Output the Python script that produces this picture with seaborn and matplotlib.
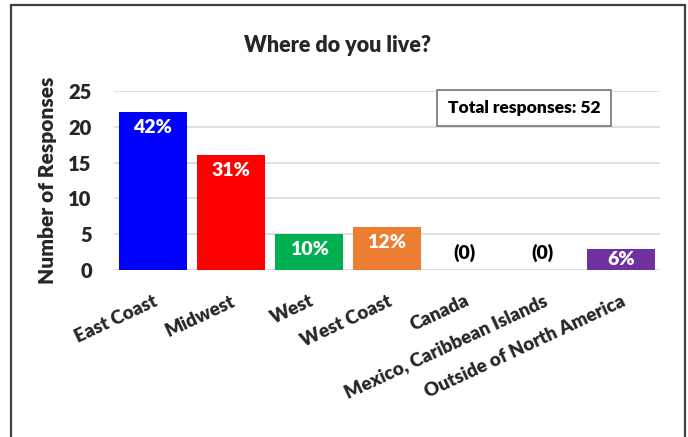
import matplotlib
matplotlib.use("Agg")
import matplotlib.pyplot as plt
from matplotlib.lines import Line2D
import seaborn as sns
import pandas as pd

regions = ["East Coast", "Midwest", "West", "West Coast", "Canada",
           "Mexico, Caribbean Islands", "Outside of North America"]
responses = [22, 16, 5, 6, 0, 0, 3]
bar_labels = ["42%", "31%", "10%", "12%", "(0)", "(0)", "6%"]
bar_colors = ["#0000FF", "#FF0000", "#00B050", "#ED7D31", "#A5A5A5", "#FFC000", "#7030A0"]
total_responses = 52
y_ticks = [0, 5, 10, 15, 20, 25]

sns.set_theme(style="white")
plt.rcParams["font.family"] = ["Lato", "DejaVu Sans"]
W = "heavy"
plt.rcParams["font.weight"] = W

df = pd.DataFrame({"region": regions, "responses": responses})

fig = plt.figure(figsize=(6.88, 4.37), dpi=100)
ax = fig.add_axes([114 / 688, 1 - 270 / 437, 546 / 688, 179 / 437])

sns.barplot(data=df, x="region", y="responses", hue="region",
            palette=bar_colors, width=0.87, legend=False, ax=ax,
            saturation=1, edgecolor="none")

ax.set_ylim(0, 25)
ax.set_xlim(-0.5, len(regions) - 0.5)
ax.set_yticks(y_ticks)
ax.yaxis.grid(True, color="#d9d9d9", linewidth=1.2)
ax.set_axisbelow(True)
for s in ax.spines.values():
    s.set_visible(False)
ax.tick_params(axis="both", length=0)
ax.tick_params(axis="y", labelsize=14.5, pad=16)
for t in ax.get_yticklabels():
    t.set_fontweight(W)
ax.set_xlabel("")
ax.set_ylabel("Number of Responses", fontsize=15, fontweight=W, labelpad=8)

ax.set_xticks(range(len(regions)))
ax.set_xticklabels(regions, rotation=25, ha="right", rotation_mode="anchor",
                   fontsize=13.5, fontweight=W)
ax.tick_params(axis="x", pad=16)

# value labels: inside the bar near its top, or above the baseline for empty bars
for i, (v, lab) in enumerate(zip(responses, bar_labels)):
    if v > 0:
        off = min(2.1, v / 2)
        ax.text(i, v - off, lab, ha="center", va="center", color="white",
                fontsize=14, fontweight=W)
    else:
        ax.text(i, 2.4, lab, ha="center", va="center", color="black",
                fontsize=14, fontweight=W)

ax.text(0.751, 0.905, f"Total responses: {total_responses}", transform=ax.transAxes,
        ha="center", va="center", fontsize=12.5, fontweight=W, color="black",
        bbox=dict(boxstyle="square,pad=0.6", facecolor="white",
                  edgecolor="#7f7f7f", linewidth=1.3))

fig.text(337 / 688, 1 - 45 / 437, "Where do you live?", ha="center", va="center",
         fontsize=15.5, fontweight=W)

# outer chart frame (left, top, right)
frame_kw = dict(color="#404040", linewidth=1.6, transform=fig.transFigure)
fig.add_artist(Line2D([11.5 / 688, 11.5 / 688], [0, 1 - 5 / 437], **frame_kw))
fig.add_artist(Line2D([11.5 / 688, 685 / 688], [1 - 5 / 437, 1 - 5 / 437], **frame_kw))
fig.add_artist(Line2D([685 / 688, 685 / 688], [0, 1 - 5 / 437], **frame_kw))

fig.savefig("out.png", dpi=100)
